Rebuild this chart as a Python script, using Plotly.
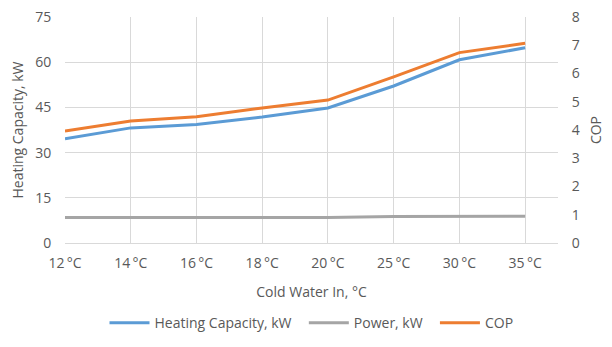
import plotly.graph_objects as go

# Test points and measured performance
categories = ["12\u2009°C", "14\u2009°C", "16\u2009°C", "18\u2009°C", "20\u2009°C", "25\u2009°C", "30\u2009°C", "35\u2009°C"]
heating_capacity = [34.6, 38.2, 39.3, 41.8, 44.8, 52.1, 60.8, 64.8]
power = [8.5, 8.5, 8.5, 8.5, 8.5, 8.8, 8.9, 8.9]
cop = [3.96, 4.32, 4.47, 4.78, 5.06, 5.88, 6.74, 7.07]

x_pos = list(range(len(categories)))

TEXT = "#595959"
GRID = "#D9D9D9"
FONT = "Open Sans, Liberation Sans, sans-serif"
PAD = "\u00a0\u00a0"  # extra room between legend entries

fig = go.Figure()
fig.add_trace(go.Scatter(x=x_pos, y=heating_capacity, name="Heating Capacity, kW" + PAD,
                         mode="lines", line=dict(color="#5B9BD5", width=3)))
fig.add_trace(go.Scatter(x=x_pos, y=power, name="Power, kW" + PAD,
                         mode="lines", line=dict(color="#A5A5A5", width=3)))
fig.add_trace(go.Scatter(x=x_pos, y=cop, name="COP", yaxis="y2",
                         mode="lines", line=dict(color="#ED7D31", width=3)))

fig.update_layout(
    width=612, height=347,
    margin=dict(l=65, r=54, t=17, b=104, autoexpand=False),
    paper_bgcolor="white", plot_bgcolor="white",
    font=dict(family=FONT, size=14, color=TEXT),
    xaxis=dict(
        tickmode="array", tickvals=x_pos, ticktext=categories,
        range=[0, 7.5], showgrid=True, gridcolor=GRID, gridwidth=1,
        zeroline=False, showline=True, linecolor=GRID, linewidth=1,
        ticks="outside", ticklen=7, tickcolor="rgba(0,0,0,0)", automargin=False,
        title=dict(text="Cold Water In, °C", font=dict(size=14, color=TEXT), standoff=16),
    ),
    yaxis=dict(
        range=[0, 75], dtick=15, showgrid=True, gridcolor=GRID, gridwidth=1,
        zeroline=False, ticks="outside", ticklen=10, tickcolor="rgba(0,0,0,0)",
        automargin=False,
        title=dict(text="Heating Capacity, kW", font=dict(size=14, color=TEXT), standoff=8),
    ),
    yaxis2=dict(
        range=[0, 8], dtick=1, overlaying="y", side="right", showgrid=False,
        zeroline=False, ticks="outside", ticklen=10, tickcolor="rgba(0,0,0,0)",
        automargin=False,
        title=dict(text="COP", font=dict(size=14, color=TEXT), standoff=12),
    ),
    legend=dict(orientation="h", x=0.5, xanchor="center", y=-0.355, yanchor="middle",
                font=dict(size=14, color=TEXT), itemwidth=40, tracegroupgap=0),
    showlegend=True,
)

fig.write_html("out.html")
